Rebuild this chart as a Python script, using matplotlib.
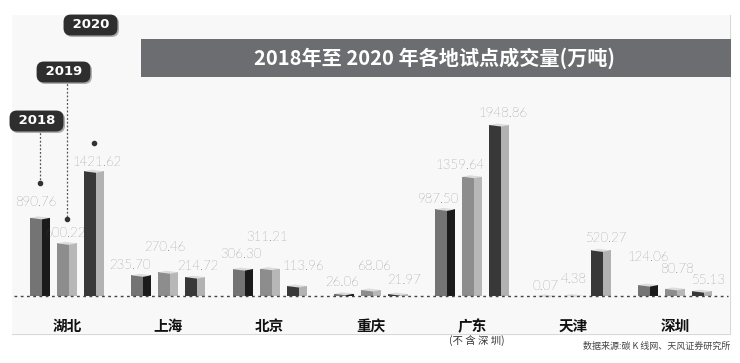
import matplotlib.pyplot as plt
from matplotlib.patches import Rectangle

plt.rcParams['font.family'] = ['Noto Sans CJK SC', 'DejaVu Sans']

# 数据
regions = ['湖北', '上海', '北京', '重庆', '广东', '天津', '深圳']
years = ['2018', '2019', '2020']
v2018 = [890.76, 235.70, 306.30, 26.06, 987.50, 0.07, 124.06]
v2019 = [600.22, 270.46, 311.21, 68.06, 1359.64, 4.38, 80.78]
v2020 = [1421.62, 214.72, 113.96, 21.97, 1948.86, 520.27, 55.13]
series = [v2018, v2019, v2020]

# 数值标签相对柱顶的偏移(像素)
label_dx = [[-4, -11, -2, -2, -7, -1, 0],
            [-1, -3, -3, 4, -12, 0, 2],
            [3, 3, 7, 6, 4, 6, 7]]
label_dy = [[15, 10, 15, 11, 10, 9, 28],
            [10, 25, 31, 24, 11, 16, 19],
            [9, 11, 20, 14, 12, 12, 11]]

# 每个年份柱子的左右两面颜色
face_left = ['#747474', '#8d8d8d', '#383838']
face_right = ['#1b1b1b', '#b7b7b7', '#b2b2b2']
cap_color = '#dcdcdc'

W, H = 740, 363
fig = plt.figure(figsize=(W / 100, H / 100), dpi=100)
fig.patch.set_facecolor('white')


def fx(x):
    return x / W


def fy(y):
    return 1 - y / H


# 背景面板和标题栏
fig.patches.append(Rectangle((fx(12), fy(334)), fx(718), 319 / H, transform=fig.transFigure,
                             facecolor='#f8f8f8', edgecolor='none', zorder=0))
fig.add_artist(plt.Line2D([fx(12), fx(730), fx(730)], [fy(334), fy(334), fy(15)],
                          transform=fig.transFigure, color='#d8d8d8', lw=0.8, zorder=0))
fig.patches.append(Rectangle((fx(141), fy(77)), fx(590), 38 / H, transform=fig.transFigure,
                             facecolor='#6c6d71', edgecolor='none', zorder=1))
fig.text(fx(435), fy(58), '2018年至 2020 年各地试点成交量(万吨)', color='white',
         fontsize=14.5, fontweight='bold', ha='center', va='center')

ax = fig.add_axes([0, 0, 1, 1])
ax.set_zorder(2)
ax.patch.set_alpha(0)
ax.axis('off')

k = 11.4  # 每像素对应的数值
step = 101.3
ax.set_xlim(-67 / step, (W - 67) / step)
ax.set_ylim(-67 * k, 296 * k)

bw = 20 / step
gap = 27 / step
split = 0.6
cap = 3 * k

for j, vals in enumerate(series):
    xs = [i + (j - 1) * gap for i in range(len(regions))]
    lefts = [x - bw / 2 for x in xs]
    ax.bar(lefts, vals, width=bw * split, align='edge', color=face_left[j], lw=0)
    ax.bar([l + bw * split for l in lefts], vals, width=bw * (1 - split), align='edge',
           color=face_right[j], lw=0)
    for i, (l, v) in enumerate(zip(lefts, vals)):
        ax.fill([l, l + bw * split, l + bw, l + bw * (1 - split)],
                [v, v - cap / 2, v, v + cap / 2], color=cap_color, lw=0)
        ax.text(l + bw / 2 + label_dx[j][i] / step, v + label_dy[j][i] * k, f'{v:.2f}',
                ha='center', va='center', fontsize=9.5, color='#454545',
                family=['Lato', 'DejaVu Sans'], fontweight='light')

# 基线
ax.plot([-53 / step, 661 / step], [0, 0], ls=(0, (2, 2.5)), color='#444444', lw=1)

# 地区标签
for i, r in enumerate(regions):
    ax.text(i, -30 * k, r, ha='center', va='center', fontsize=10.5, fontweight='bold',
            color='#111111')
ax.text(4 + 5 / step, -45 * k, '(不 含 深 圳)', ha='center', va='center', fontsize=7.5,
        color='#333333')

# 年份标签和引线
tag_y = [121, 72, 25]
dot_up = [35, 24, 28]
tag_box = 'round,pad=0.3,rounding_size=0.55'
for j in range(3):
    x = (j - 1) * gap
    ty = (296 - tag_y[j]) * k
    dy = series[j][0] + dot_up[j] * k
    if j < 2:
        ax.plot([x, x], [ty - 8 * k, dy], ls=(0, (1.5, 1.5)), color='#555555', lw=0.9)
    ax.plot(x, dy, 'o', color='#333333', ms=3)
    ax.text(x - 2 / step, ty - 1.5 * k, ' ' + years[j] + ' ', ha='center', va='center',
            fontsize=9.5, fontweight='bold', color='#aaaaaa', family=['DejaVu Sans'],
            bbox=dict(boxstyle=tag_box, fc='#aaaaaa', ec='none'))
    ax.text(x - 3.5 / step, ty, ' ' + years[j] + ' ', ha='center', va='center',
            fontsize=9.5, fontweight='bold', color='white', family=['DejaVu Sans'],
            bbox=dict(boxstyle=tag_box, fc='#2e2e2e', ec='none'))

fig.text(fx(730), fy(346), '数据来源:碳 K 线网、天风证券研究所', ha='right', va='center',
         fontsize=6.5, color='#444444')

fig.savefig('out.png', dpi=100)
